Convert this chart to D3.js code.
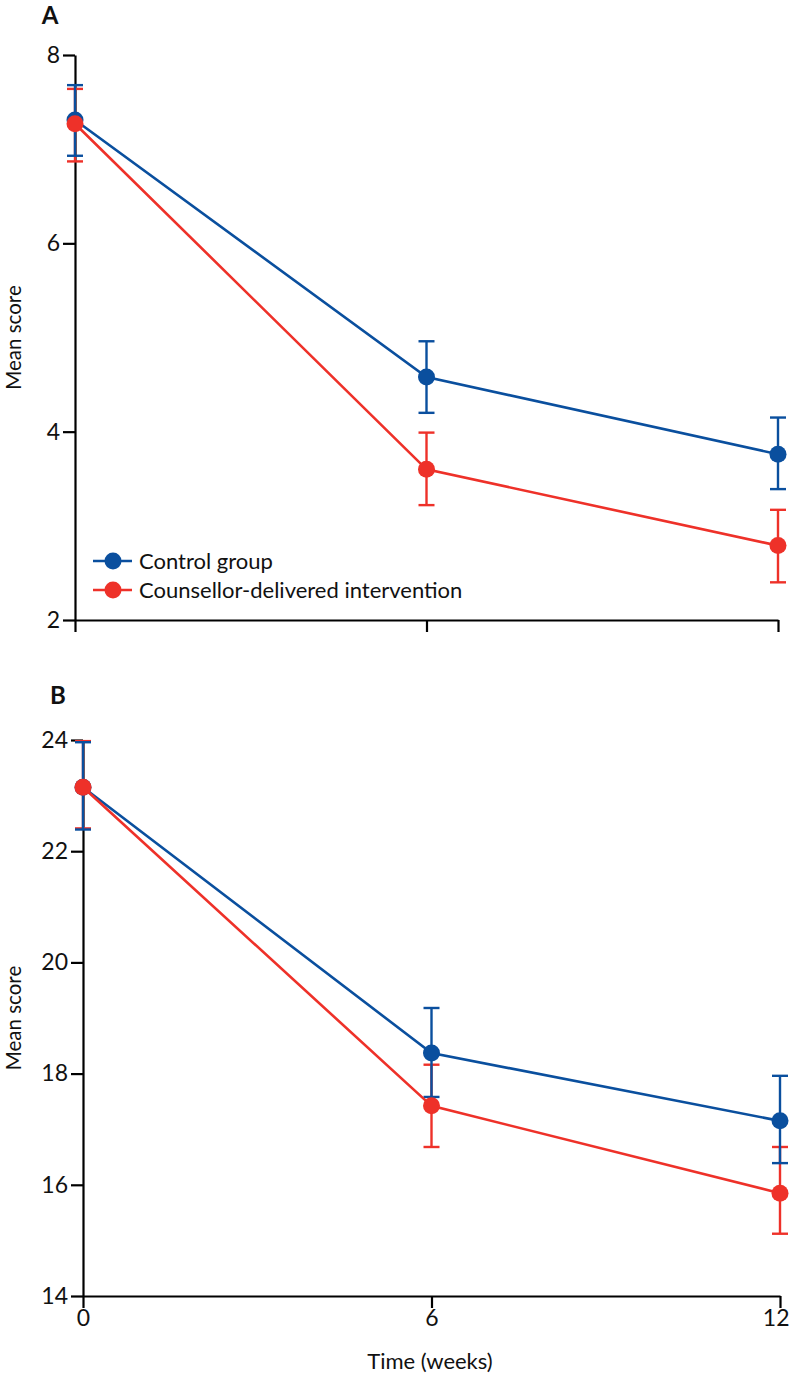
<!DOCTYPE html>
<html>
<head>
<meta charset="utf-8">
<script src="https://cdn.jsdelivr.net/npm/d3@7"></script>
<style>
  html, body { margin: 0; padding: 0; background: #fff; }
  svg { display: block; font-family: Lato, "Open Sans", sans-serif; }
</style>
</head>
<body>
<svg id="chart" width="789" height="1375"></svg>
<script>
// ---- data ----
const weeks = [0, 6, 12];
const xTicks = [0, 6, 12];
const seriesNames = ["Control group", "Counsellor-delivered intervention"];
const seriesColors = ["#0a4f9e", "#ee3129"];

// Panel A
const aTicks = [2, 4, 6, 8];
const aControlMean  = [7.31, 4.58, 3.76];
const aControlLow   = [6.93, 4.20, 3.39];
const aControlHigh  = [7.68, 4.96, 4.15];
const aInterMean    = [7.27, 3.60, 2.79];
const aInterLow     = [6.87, 3.22, 2.40];
const aInterHigh    = [7.64, 3.99, 3.17];

// Panel B
const bTicks = [14, 16, 18, 20, 22, 24];
const bControlMean  = [23.15, 18.37, 17.15];
const bControlLow   = [22.39, 17.58, 16.39];
const bControlHigh  = [23.96, 19.18, 17.96];
const bInterMean    = [23.15, 17.42, 15.85];
const bInterLow     = [22.41, 16.68, 15.12];
const bInterHigh    = [23.98, 18.16, 16.68];

const svg = d3.select("#chart");

function build(series) {
  return series.map((s, i) => ({
    name: seriesNames[i], color: seriesColors[i],
    pts: weeks.map((w, j) => ({ w, m: s[0][j], lo: s[1][j], hi: s[2][j] }))
  }));
}

function panel(cfg) {
  const x = d3.scaleLinear().domain([0, 12]).range(cfg.xRange);
  const y = d3.scaleLinear().domain(cfg.yDomain).range(cfg.yRange);
  const g = svg.append("g");

  // y axis
  const ya = g.append("g").attr("transform", `translate(${cfg.xRange[0]},0)`)
    .call(d3.axisLeft(y).tickValues(cfg.yTicks).tickFormat(d3.format("d"))
      .tickSize(12).tickPadding(3).tickSizeOuter(0));
  ya.select(".domain").attr("stroke", "#000").attr("stroke-width", 2.2);
  ya.selectAll(".tick line").attr("stroke", "#000").attr("stroke-width", 2.2);
  ya.selectAll(".tick text").attr("font-size", 23).attr("fill", "#111")
    .attr("font-family", "Lato, sans-serif");

  // x axis
  const xa = g.append("g").attr("transform", `translate(0,${cfg.yRange[0]})`)
    .call(d3.axisBottom(x).tickValues(xTicks).tickFormat(d3.format("d"))
      .tickSize(12).tickPadding(2).tickSizeOuter(0));
  xa.select(".domain").attr("stroke", "#000").attr("stroke-width", 2.2);
  xa.selectAll(".tick line").attr("stroke", "#000").attr("stroke-width", 2.2);
  xa.selectAll(".tick text").attr("font-size", 23).attr("fill", "#111")
    .attr("font-family", "Lato, sans-serif")
    .attr("text-anchor", d => d === 12 ? "end" : "middle")
    .attr("dx", d => d === 12 ? 9 : 0)
    .style("display", cfg.showXLabels ? null : "none");

  // y title
  const ymid = (cfg.yRange[0] + cfg.yRange[1]) / 2;
  g.append("text").attr("transform", `translate(21,${ymid}) rotate(-90)`)
    .attr("text-anchor", "middle").attr("font-size", 20.5).attr("fill", "#111")
    .text("Mean score");

  // panel letter
  g.append("text").attr("x", cfg.letterX).attr("y", cfg.letterY)
    .attr("text-anchor", "middle").attr("font-size", 24).attr("font-weight", "bold")
    .attr("fill", "#111").text(cfg.letter);

  const data = cfg.data;
  const cap = 8;
  // error bars (intervention under control)
  [data[1], data[0]].forEach(s => {
    const eb = g.append("g").attr("stroke", s.color).attr("stroke-width", 2.4);
    eb.selectAll("line.v").data(s.pts).join("line").attr("class", "v")
      .attr("x1", d => x(d.w)).attr("x2", d => x(d.w))
      .attr("y1", d => y(d.lo)).attr("y2", d => y(d.hi));
    eb.selectAll("line.t").data(s.pts).join("line").attr("class", "t")
      .attr("x1", d => x(d.w) - cap).attr("x2", d => x(d.w) + cap)
      .attr("y1", d => y(d.hi)).attr("y2", d => y(d.hi));
    eb.selectAll("line.b").data(s.pts).join("line").attr("class", "b")
      .attr("x1", d => x(d.w) - cap).attr("x2", d => x(d.w) + cap)
      .attr("y1", d => y(d.lo)).attr("y2", d => y(d.lo));
  });
  const line = d3.line().x(d => x(d.w)).y(d => y(d.m));
  data.forEach(s => {
    g.append("path").datum(s.pts).attr("d", line).attr("fill", "none")
      .attr("stroke", s.color).attr("stroke-width", 2.6);
    g.selectAll(null).data(s.pts).join("circle")
      .attr("cx", d => x(d.w)).attr("cy", d => y(d.m)).attr("r", 8.5)
      .attr("fill", s.color);
  });
  return { x, y, g };
}

const A = panel({
  xRange: [75, 778], yRange: [620, 55], yDomain: [2, 8], yTicks: aTicks,
  showXLabels: false, letter: "A", letterX: 50, letterY: 24,
  data: build([[aControlMean, aControlLow, aControlHigh], [aInterMean, aInterLow, aInterHigh]])
});

// legend in panel A
const legend = A.g.append("g");
seriesNames.forEach((n, i) => {
  const ly = 561 + i * 29;
  legend.append("line").attr("x1", 93).attr("x2", 132).attr("y1", ly).attr("y2", ly)
    .attr("stroke", seriesColors[i]).attr("stroke-width", 2.6);
  legend.append("circle").attr("cx", 113).attr("cy", ly).attr("r", 8.5).attr("fill", seriesColors[i]);
  legend.append("text").attr("x", 139).attr("y", ly).attr("dy", "0.35em")
    .attr("font-size", 22).attr("fill", "#111").text(n);
});

const B = panel({
  xRange: [83, 780], yRange: [1296, 740], yDomain: [14, 24], yTicks: bTicks,
  showXLabels: true, letter: "B", letterX: 58, letterY: 704,
  data: build([[bControlMean, bControlLow, bControlHigh], [bInterMean, bInterLow, bInterHigh]])
});

svg.append("text").attr("x", 430).attr("y", 1369).attr("text-anchor", "middle")
  .attr("font-size", 22).attr("fill", "#111").text("Time (weeks)");
</script>
</body>
</html>
